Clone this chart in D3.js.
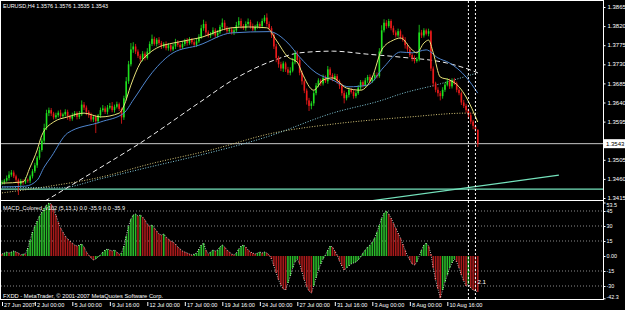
<!DOCTYPE html>
<html>
<head>
<meta charset="utf-8">
<script src="https://cdn.jsdelivr.net/npm/d3@7"></script>
<style>
  html, body { margin: 0; padding: 0; background: #000; }
  svg { display: block; }
  text { font-family: "Liberation Sans", Arial, sans-serif; font-size: 6.2px; fill: #fff; }
</style>
</head>
<body>
<div class="chart"></div>
<script>
// EURUSD H4 candles, prices in pips above 1.3400 (open = previous close)
const firstOpen = 50;
const closes = [
  52, 56, 62, 70, 75, 66, 58, 48, 55, 52, 58, 56,
  66, 78, 92, 110, 128, 150, 180, 215, 222, 214, 205, 210,
  216, 208, 212, 218, 207, 202, 210, 215, 206, 212, 235, 228,
  218, 210, 200, 206, 196, 210, 222, 226, 218, 228, 232, 222,
  230, 236, 225, 205, 250, 290, 330, 365, 372, 360, 350, 342,
  355, 345, 360, 378, 390, 378, 388, 380, 372, 378, 368, 375,
  365, 372, 382, 376, 370, 378, 385, 380, 388, 382, 376, 384,
  395, 415, 425, 405, 398, 402, 410, 398, 405, 418, 428, 415,
  408, 412, 405, 410, 422, 432, 420, 415, 425, 430, 420, 412,
  418, 425, 420, 432, 440, 425, 415, 400, 372, 345, 330, 320,
  332, 318, 310, 315, 335, 355, 340, 310, 290, 268, 245, 232,
  238, 262, 280, 292, 285, 298, 290, 318, 305, 296, 302, 290,
  280, 262, 250, 258, 270, 265, 255, 262, 275, 288, 280, 292,
  300, 290, 298, 305, 302, 360, 410, 428, 420, 432, 415, 405,
  398, 408, 395, 388, 375, 365, 352, 345, 338, 342, 405, 398,
  410, 402, 408, 320, 285, 270, 262, 255, 270, 282, 290, 278,
  292, 285, 270, 262, 240, 232, 222, 210, 195, 185, 176, 143
];
const wickUp = [
  5, 4, 6, 8, 6, 5, 4, 3, 5, 4, 6, 3,
  4, 5, 6, 4, 8, 6, 10, 8, 6, 5, 4, 6,
  5, 7, 4, 6, 5, 4, 6, 5, 4, 8, 10, 6,
  5, 4, 6, 4, 5, 3, 6, 8, 5, 6, 7, 9,
  5, 6, 4, 3, 6, 10, 8, 15, 10, 6, 5, 4,
  6, 5, 8, 6, 10, 5, 4, 6, 5, 4, 6, 5,
  4, 6, 8, 5, 4, 6, 5, 7, 6, 4, 5, 6,
  6, 8, 10, 6, 5, 4, 7, 5, 6, 5, 10, 6,
  5, 4, 6, 7, 8, 9, 6, 5, 6, 8, 5, 6,
  5, 6, 4, 6, 6, 10, 6, 5, 4, 6, 5, 6,
  5, 4, 6, 8, 10, 8, 7, 6, 5, 4, 5, 6,
  5, 6, 6, 5, 4, 8, 6, 8, 5, 4, 6, 5,
  4, 5, 6, 6, 5, 4, 6, 5, 6, 5, 4, 6,
  5, 6, 4, 5, 6, 8, 12, 8, 6, 5, 4, 6,
  5, 6, 4, 5, 6, 4, 5, 4, 6, 5, 18, 6,
  5, 4, 6, 3, 5, 4, 6, 5, 6, 5, 7, 6,
  5, 6, 4, 5, 4, 6, 5, 4, 6, 4, 3, 0
];
const wickDown = [
  4, 5, 3, 6, 5, 4, 6, 26, 5, 6, 4, 5,
  6, 5, 4, 6, 5, 4, 6, 5, 7, 6, 5, 4,
  5, 6, 4, 5, 8, 6, 5, 4, 6, 5, 4, 6,
  8, 6, 5, 6, 28, 5, 6, 4, 5, 6, 4, 5,
  6, 4, 5, 15, 6, 5, 6, 5, 8, 6, 5, 6,
  5, 6, 4, 6, 5, 4, 6, 5, 6, 4, 5, 6,
  5, 4, 6, 5, 6, 4, 5, 6, 4, 5, 6, 5,
  4, 5, 6, 8, 5, 6, 4, 6, 5, 4, 6, 5,
  6, 4, 5, 6, 4, 5, 6, 4, 6, 5, 6, 4,
  5, 4, 6, 5, 4, 6, 6, 8, 6, 10, 8, 6,
  8, 6, 5, 6, 4, 5, 8, 6, 8, 6, 10, 12,
  8, 6, 5, 4, 6, 5, 4, 6, 5, 6, 4, 6,
  8, 6, 12, 5, 6, 4, 6, 5, 4, 6, 5, 4,
  6, 5, 4, 6, 5, 4, 6, 5, 6, 4, 5, 6,
  5, 4, 6, 5, 8, 6, 5, 8, 6, 4, 5, 6,
  5, 4, 6, 6, 8, 6, 8, 10, 6, 5, 4, 6,
  5, 4, 6, 5, 6, 5, 6, 8, 6, 8, 6, 8
];

// MACD_Colored histogram, one value per bar
const macd = [
  2, 3, 4, 3, 4, 5, 4, 3, 1, 2, 2, 8,
  16, 24, 30, 35, 40, 44, 48, 51, 53, 52, 47, 41,
  34, 28, 24, 20, 17, 15, 13, 11, 10, 11, 12, 9,
  4, 1, -2, -4, -3, -1, 1, 4, 6, 7, 6, 5,
  6, 4, 2, 3, 10, 20, 30, 37, 41, 42, 40, 41,
  39, 36, 32, 30, 31, 28, 25, 22, 21, 22, 19, 17,
  15, 14, 12, 9, 7, 5, 4, 3, 2, 1, 2, 3,
  7, 11, 13, 6, 2, 4, 6, 5, 6, 9, 11, 9,
  6, 4, 2, 1, 3, 7, 10, 11, 9, 6, 4, 3,
  2, 3, 4, 3, 4, 3, 1, -3, -10, -17, -24, -29,
  -33, -34, -27, -20, -12, -6, -3, -8, -16, -24, -31, -35,
  -37, -30, -22, -14, -8, -3, 1, 6, 10, 9, 5, 1,
  -5, -10, -14, -12, -10, -8, -7, -6, -4, -1, 3, 6,
  9, 11, 14, 18, 24, 31, 38, 43, 45, 42, 38, 33,
  28, 23, 18, 12, 6, 0, -4, -8, -9, -6, 0, 6,
  11, 13, 10, 2, -12, -24, -33, -42, -34, -26, -19, -12,
  -7, -3, -6, -12, -19, -25, -30, -28, -32, -34, -35, -35.9
];

// moving averages (bar index, pips above 1.3400)
const maFastBars = [0, 9, 12, 15, 17, 22, 28, 35, 42, 50, 52, 55, 59, 63, 67, 73, 84, 98, 105, 113, 117, 122, 126, 128, 133, 137, 141, 147, 153, 158, 162, 167, 170, 175, 177, 180, 182, 184, 187, 191, 195, 198, 203];
const maFast = [50, 53, 88, 128, 163, 194, 206, 215, 206, 215, 232, 281, 333, 357, 371, 380, 392, 416, 418, 416, 387, 347, 335, 310, 269, 293, 298, 274, 269, 300, 364, 387, 392, 364, 357, 380, 387, 357, 300, 293, 277, 253, 194];
const maMidBars = [0, 10, 15, 18, 21, 28, 42, 52, 56, 64, 73, 84, 98, 114, 122, 127, 134, 141, 148, 156, 163, 170, 175, 181, 186, 191, 198, 203];
const maMid = [41, 43, 57, 88, 112, 168, 194, 215, 246, 310, 357, 375, 404, 407, 380, 347, 310, 293, 277, 281, 324, 359, 357, 364, 345, 333, 300, 262];
const maDashBars = [15.4, 41.8, 59.7, 84.5, 98.5, 117.3, 127, 141, 155.7, 169.8, 189.8, 199.7, 203];
const maDash = [-2, 86, 147, 241, 293, 342, 357, 361, 354, 347, 333, 317, 310];
const maCyanBars = [0, 24.7, 41.8, 63, 84.5, 113, 141, 162.5, 170, 187, 203];
const maCyan = [41, 39, 60, 88, 116, 159, 215, 246, 260, 284, 310];
const maTanBars = [0, 20.5, 42, 63, 89, 115.6, 141, 174, 198.4, 203];
const maTan = [27, 43, 64, 95, 128, 168, 189, 206, 215, 215];

// objects on the chart
const bidPrice = 1.3543;
const hLinePrice = 1.3436;
const trendBars = [157, 237.6];
const trendPrices = [1.3408, 1.3469];
const vLineBars = [199, 202];

// axes (1.3550 sits under the bid label)
const priceTicks = [1.3865, 1.3820, 1.3775, 1.3730, 1.3685, 1.3640, 1.3595, 1.3505, 1.3460, 1.3415];
const macdTicks = [53.5, 45, 30, 15, 0, -15, -30, -42.3];
const macdTickLabels = ["53.5", "45", "30", "15", "0.00", "-15", "-30", "-42.3"];
const macdLevels = [45, 30, 15, -15, -30];
const timeTickBars = [0, 14, 30, 46, 62, 78, 94, 110, 126, 142, 158, 174, 190];
const timeLabels = ["27 Jun 2007", "2 Jul 00:00", "5 Jul 00:00", "9 Jul 16:00", "12 Jul 00:00", "17 Jul 00:00",
  "19 Jul 16:00", "24 Jul 00:00", "27 Jul 00:00", "31 Jul 16:00", "3 Aug 00:00", "8 Aug 00:00", "10 Aug 16:00"];

const W = 625, H = 310;
const pip = v => 1.34 + v / 10000;

const svg = d3.select(".chart").append("svg").attr("width", W).attr("height", H);

const x = d3.scaleLinear().domain([0, 256]).range([2, 602]);
const yPrice = d3.scaleLinear().domain([1.3415, 1.3865]).range([198, 7]);
const yMacd = d3.scaleLinear().domain([-42.3, 53.5]).range([298.3, 202.5]);

const defs = svg.append("defs");
defs.append("clipPath").attr("id", "clipMain")
  .append("rect").attr("x", 1).attr("y", 1).attr("width", 602).attr("height", 199);
defs.append("clipPath").attr("id", "clipMacd")
  .append("rect").attr("x", 1).attr("y", 201).attr("width", 602).attr("height", 98);

// ---- main window
const main = svg.append("g").attr("clip-path", "url(#clipMain)");

// horizontal line + trendline
main.append("line")
  .attr("x1", 1).attr("x2", 603)
  .attr("y1", yPrice(hLinePrice)).attr("y2", yPrice(hLinePrice))
  .attr("stroke", "#74e2bc").attr("stroke-width", 1.2);

main.append("line")
  .attr("x1", x(trendBars[0])).attr("x2", x(trendBars[1]))
  .attr("y1", yPrice(trendPrices[0])).attr("y2", yPrice(trendPrices[1]))
  .attr("stroke", "#74e2bc").attr("stroke-width", 1.2);

// bid line
main.append("line")
  .attr("x1", 1).attr("x2", 603)
  .attr("y1", yPrice(bidPrice)).attr("y2", yPrice(bidPrice))
  .attr("stroke", "#c8c8c8").attr("stroke-width", 1);

// slow moving averages
function maLine(bars, vals) {
  return d3.line()
    .x((d, i) => x(bars[i]))
    .y(d => yPrice(pip(d)))
    .curve(d3.curveMonotoneX)(vals);
}

main.append("path").attr("d", maLine(maTanBars, maTan))
  .attr("fill", "none").attr("stroke", "#d9c97a").attr("stroke-width", 1)
  .attr("stroke-dasharray", "1,1.6");
main.append("path").attr("d", maLine(maCyanBars, maCyan))
  .attr("fill", "none").attr("stroke", "#86cfe0").attr("stroke-width", 1)
  .attr("stroke-dasharray", "1,1.6");
main.append("path").attr("d", maLine(maDashBars, maDash))
  .attr("fill", "none").attr("stroke", "#f0f0f0").attr("stroke-width", 1)
  .attr("stroke-dasharray", "5,3");

// candles
const candles = closes.map((c, i) => {
  const o = i === 0 ? firstOpen : closes[i - 1];
  return {
    i: i, o: o, c: c,
    h: Math.max(o, c) + wickUp[i],
    l: Math.min(o, c) - wickDown[i]
  };
});

const candleG = main.append("g")
  .selectAll("g")
  .data(candles)
  .join("g")
  .attr("stroke", d => d.c >= d.o ? "#1ee21e" : "#ec1a1a")
  .attr("fill", d => d.c >= d.o ? "#1ee21e" : "#ec1a1a");

candleG.append("line")
  .attr("x1", d => x(d.i)).attr("x2", d => x(d.i))
  .attr("y1", d => yPrice(pip(d.h))).attr("y2", d => yPrice(pip(d.l)))
  .attr("stroke-width", 0.8);

candleG.append("rect")
  .attr("x", d => x(d.i) - 0.8)
  .attr("width", 1.6)
  .attr("y", d => yPrice(pip(Math.max(d.o, d.c))))
  .attr("height", d => Math.max(1, yPrice(pip(Math.min(d.o, d.c))) - yPrice(pip(Math.max(d.o, d.c)))))
  .attr("stroke", "none");

// fast moving averages
main.append("path").attr("d", maLine(maMidBars, maMid))
  .attr("fill", "none").attr("stroke", "#4f86cf").attr("stroke-width", 1);
main.append("path").attr("d", maLine(maFastBars, maFast))
  .attr("fill", "none").attr("stroke", "#e8e27a").attr("stroke-width", 1);

// ---- MACD window
const sub = svg.append("g").attr("clip-path", "url(#clipMacd)");

sub.append("g")
  .selectAll("line")
  .data(macdLevels)
  .join("line")
  .attr("x1", 1).attr("x2", 603)
  .attr("y1", d => yMacd(d)).attr("y2", d => yMacd(d))
  .attr("stroke", "#8a8a8a").attr("stroke-width", 1)
  .attr("stroke-dasharray", "1,2");

sub.append("g")
  .selectAll("rect")
  .data(macd)
  .join("rect")
  .attr("x", (d, i) => x(i) - 0.8)
  .attr("width", 1.6)
  .attr("y", d => Math.min(yMacd(d), yMacd(0)))
  .attr("height", d => Math.abs(yMacd(d) - yMacd(0)))
  .attr("fill", (d, i) => (i > 0 && d > macd[i - 1]) ? "#2ab82a" : "#a81a1a");

sub.append("path")
  .attr("d", d3.line().x((d, i) => x(i)).y(d => yMacd(d))(macd))
  .attr("fill", "none").attr("stroke", "#f0f0f0").attr("stroke-width", 0.8)
  .attr("stroke-dasharray", "1,1.4");

// vertical dashed lines across both windows
svg.append("g")
  .selectAll("line")
  .data(vLineBars)
  .join("line")
  .attr("x1", d => x(d)).attr("x2", d => x(d))
  .attr("y1", 1).attr("y2", 300)
  .attr("stroke", "#fff").attr("stroke-width", 1)
  .attr("stroke-dasharray", "2,2");

svg.append("text")
  .attr("x", x(vLineBars[1]) + 2).attr("y", yMacd(-28))
  .text("2.1");

// frames
const frame = svg.append("g").attr("stroke", "#fff").attr("stroke-width", 1);
frame.append("line").attr("x1", 0.5).attr("x2", 603.5).attr("y1", 0.5).attr("y2", 0.5);
frame.append("line").attr("x1", 0.5).attr("x2", 603.5).attr("y1", 200.5).attr("y2", 200.5);
frame.append("line").attr("x1", 0.5).attr("x2", 603.5).attr("y1", 299.5).attr("y2", 299.5);
frame.append("line").attr("x1", 0.5).attr("x2", 0.5).attr("y1", 0).attr("y2", 300);
frame.append("line").attr("x1", 603.5).attr("x2", 603.5).attr("y1", 0).attr("y2", 300);

// price axis
const priceAxis = svg.append("g")
  .attr("transform", "translate(603.5,0)")
  .call(d3.axisRight(yPrice).tickValues(priceTicks).tickSize(2).tickPadding(2).tickFormat(d3.format(".4f")));
priceAxis.select(".domain").remove();
priceAxis.selectAll("line").attr("stroke", "#fff");
priceAxis.selectAll("text").attr("fill", "#fff").style("font-size", "6px").attr("dy", "0.28em");

// bid label
svg.append("rect")
  .attr("x", 604).attr("y", yPrice(bidPrice) - 4.5)
  .attr("width", 21).attr("height", 9)
  .attr("fill", "#fff");
svg.append("text")
  .attr("x", 606).attr("y", yPrice(bidPrice) + 2.2)
  .style("fill", "#000").style("font-size", "6px")
  .text(d3.format(".4f")(bidPrice));

// macd axis
const macdAxis = svg.append("g")
  .attr("transform", "translate(603.5,0)")
  .call(d3.axisRight(yMacd).tickValues(macdTicks).tickSize(2).tickPadding(1).tickFormat((d, i) => macdTickLabels[i]));
macdAxis.select(".domain").remove();
macdAxis.selectAll("line").attr("stroke", "#fff");
macdAxis.selectAll("text").attr("fill", "#fff").style("font-size", "5.4px").attr("dy", "0.3em");
macdAxis.selectAll(".tick").filter(d => d === 53.5).select("text").attr("dy", "0.75em");
macdAxis.selectAll(".tick").filter(d => d === -42.3).select("text").attr("dy", "0.1em");

// time axis
const timeAxis = svg.append("g")
  .attr("transform", "translate(0,300)")
  .call(d3.axisBottom(x).tickValues(timeTickBars).tickSize(6).tickFormat((d, i) => timeLabels[i]));
timeAxis.select(".domain").remove();
timeAxis.selectAll("line").attr("stroke", "#fff").attr("y1", 2);
timeAxis.selectAll("text")
  .attr("fill", "#fff")
  .attr("text-anchor", "start")
  .attr("x", 1.6).attr("y", 3).attr("dy", "0.71em")
  .style("font-size", "5.6px");

// captions
svg.append("text").attr("x", 3).attr("y", 8)
  .attr("textLength", 105).attr("lengthAdjust", "spacingAndGlyphs")
  .text("EURUSD,H4  1.3576 1.3576 1.3535 1.3543");
svg.append("text").attr("x", 3).attr("y", 210)
  .attr("textLength", 122).attr("lengthAdjust", "spacingAndGlyphs")
  .text("MACD_Colored_v102 (5,13,1) 0.0 -35.9 0.0 -35.9");
svg.append("text").attr("x", 3).attr("y", 297.5)
  .attr("textLength", 160).attr("lengthAdjust", "spacingAndGlyphs")
  .text("FXDD - MetaTrader, © 2001-2007 MetaQuotes Software Corp.");
</script>
</body>
</html>
